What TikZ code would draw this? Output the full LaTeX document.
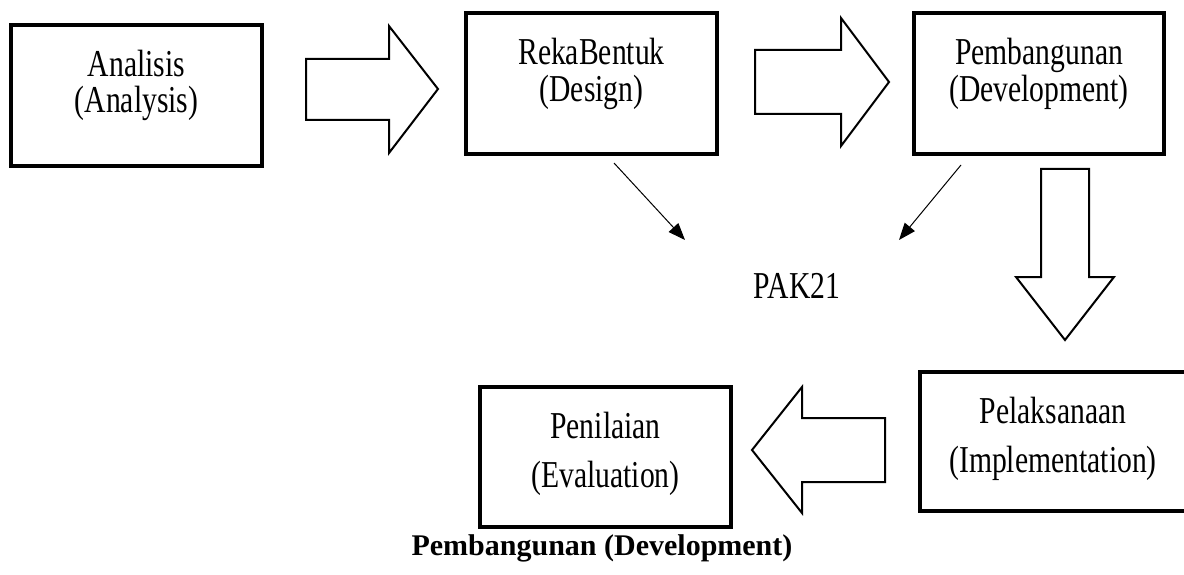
\documentclass[tikz,border=0pt]{standalone}
\usepackage{fontspec}
\setmainfont{Liberation Serif}
\newfontfamily\condfont[FakeStretch=0.78]{Liberation Serif}
\usetikzlibrary{arrows.meta}
\tikzset{
  box/.style={draw, line width=3.5pt, inner sep=0pt, outer sep=0pt, rectangle},
  txt/.style={font=\condfont\fontsize{38}{40}\selectfont, inner sep=0pt, anchor=base},
  blockarrow/.style={draw, line width=2pt, fill=white, line join=miter},
  thin arrow/.style={line width=1pt, -{Triangle[length=17pt,width=13pt]}},
}
\begin{document}
\begin{tikzpicture}[x=1pt,y=-1pt]
\clip (0,0) rectangle (1184,575);
\fill[white] (0,0) rectangle (1184,575);
% boxes
\node[box, minimum width=251pt, minimum height=141pt] (ana) at (136.5,95.5) {};
\node[box, minimum width=251pt, minimum height=141pt] (reka) at (591.5,83.5) {};
\node[box, minimum width=250pt, minimum height=141pt] (pemb) at (1039,83.5) {};
\node[box, minimum width=275pt, minimum height=139pt] (pel) at (1057.5,441.5) {};
\node[box, minimum width=251pt, minimum height=140pt] (pen) at (605.5,457) {};
% texts
\node[txt] (anaA) at (136.5,77) {Analisis};
\node[txt] (anaB) at (136.5,113) {(Analysis)};
\node[txt] (rekaA) at (591.5,65) {RekaBentuk};
\node[txt] (rekaB) at (591.5,102) {(Design)};
\node[txt] (pembA) at (1039,65) {Pembangunan};
\node[txt] (pembB) at (1039,102) {(Development)};
\node[txt] (pelA) at (1053,423) {Pelaksanaan};
\node[txt] (pelB) at (1053,472) {(Implementation)};
\node[txt] (penA) at (605.5,438) {Penilaian};
\node[txt] (penB) at (605.5,487) {(Evaluation)};
\node[txt] (pak) at (797,298) {PAK21};
\node[font=\bfseries\fontsize{30}{32}\selectfont, inner sep=0pt, anchor=base] (cap) at (602,555) {Pembangunan (Development)};
% block arrows
\draw[blockarrow] (306,59) -- (389,59) -- (389,26) -- (438,89) -- (389,153) -- (389,120) -- (306,120) -- cycle;
\draw[blockarrow] (755,50) -- (841,50) -- (841,18) -- (889,82) -- (841,146) -- (841,114) -- (755,114) -- cycle;
\draw[blockarrow] (1041,169) -- (1089,169) -- (1089,277) -- (1114,277) -- (1065,340) -- (1016,277) -- (1041,277) -- cycle;
\draw[blockarrow] (885,418) -- (885,482) -- (802,482) -- (802,513) -- (752,450) -- (802,387) -- (802,418) -- cycle;
% thin arrows toward PAK21
\coordinate (d1s) at (614,163);
\coordinate (d1e) at (685,240);
\coordinate (d2s) at (961,165);
\coordinate (d2e) at (899,240);
\draw[thin arrow] (d1s) -- (d1e);
\draw[thin arrow] (d2s) -- (d2e);
\end{tikzpicture}
\end{document}
